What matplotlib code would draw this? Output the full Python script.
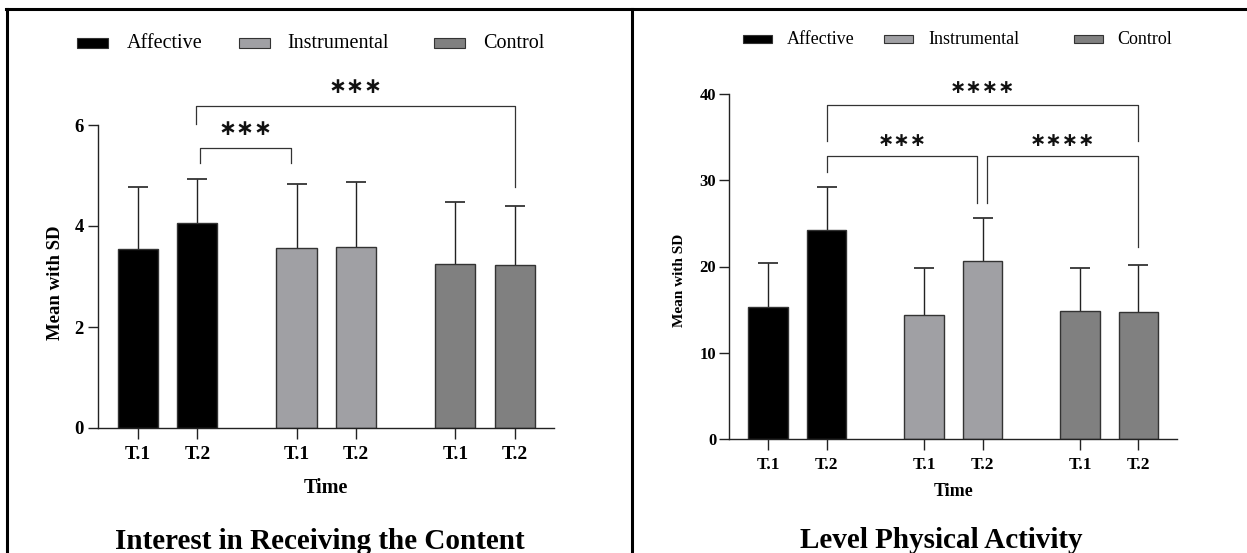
import matplotlib
matplotlib.use("Agg")
import matplotlib.pyplot as plt
import numpy as np
from matplotlib.lines import Line2D
from matplotlib.patches import Rectangle

W, H = 1247, 553

# ---------- DATA ----------
groups = ["Affective", "Instrumental", "Control"]
times = ["T.1", "T.2"]

interest_mean = {
    "Affective": [3.55, 4.06],
    "Instrumental": [3.56, 3.59],
    "Control": [3.24, 3.22],
}
interest_sd = {
    "Affective": [1.22, 0.87],
    "Instrumental": [1.28, 1.28],
    "Control": [1.23, 1.18],
}

activity_mean = {
    "Affective": [15.3, 24.2],
    "Instrumental": [14.4, 20.6],
    "Control": [14.8, 14.7],
}
activity_sd = {
    "Affective": [5.1, 5.0],
    "Instrumental": [5.4, 5.0],
    "Control": [5.0, 5.5],
}

interest_ticks = [0, 2, 4, 6]
activity_ticks = [0, 10, 20, 30, 40]

colors = {"Affective": "#000000", "Instrumental": "#A0A0A4", "Control": "#808080"}
DARK = "#222222"
SERIF = "Liberation Serif"


def fx(px):
    return px / W


def fy(py):
    return 1 - py / H


def bar_positions():
    pos = []
    for g in range(len(groups)):
        pos.append([g * 2.667, g * 2.667 + 1])
    return pos


def draw_panel(ax, means, sds, ticks, fs):
    pos = bar_positions()
    for g, name in enumerate(groups):
        ax.bar(pos[g], means[name], width=0.675, color=colors[name],
               edgecolor="#333333", linewidth=1.0, zorder=2)
        # symmetric SD bars drawn behind the bars: only the upper half shows
        ax.errorbar(pos[g], means[name], yerr=sds[name], fmt="none",
                    ecolor=DARK, elinewidth=1.0, capsize=7, capthick=1.2, zorder=1)
    ax.set_xlim(-0.67, 7.0)
    ax.set_ylim(ticks[0], ticks[-1])
    ax.set_yticks(ticks)
    ax.set_xticks([p for pp in pos for p in pp])
    ax.set_xticklabels(times * 3)
    for s in ["top", "right"]:
        ax.spines[s].set_visible(False)
    for s in ["left", "bottom"]:
        ax.spines[s].set_linewidth(1.0)
        ax.spines[s].set_color(DARK)
        ax.spines[s].set_zorder(3)
    ax.tick_params(axis="y", length=7.2, width=1.0, color=DARK, pad=fs["ypad"])
    ax.tick_params(axis="x", length=7.7, width=1.0, color=DARK, pad=5)
    for lab in ax.get_yticklabels():
        lab.set_fontfamily(SERIF)
        lab.set_fontweight("bold")
        lab.set_fontsize(fs["ytick"])
    for lab in ax.get_xticklabels():
        lab.set_fontfamily(SERIF)
        lab.set_fontweight("bold")
        lab.set_fontsize(fs["xtick"])
    ax.set_ylabel("Mean with SD", fontfamily=SERIF, fontweight="bold",
                  fontsize=fs["ylabel"], va="center")
    ax.set_xlabel("Time", fontfamily=SERIF, fontweight="bold",
                  fontsize=fs["xlabel"], va="center")


def bracket(ax, x1, x2, ytop, y1, y2, stars, ystar, size):
    ax.plot([x1, x1, x2, x2], [y1, ytop, ytop, y2], color="#333333",
            linewidth=0.9, clip_on=False, zorder=3)
    ax.text((x1 + x2) / 2, ystar, stars, ha="center", va="center",
            fontsize=size, fontweight="bold", family="DejaVu Sans", color="#111111")


def legend(fig, patch_x, text_x, yc, pw, ph, size):
    for name, px, tx in zip(groups, patch_x, text_x):
        fig.patches.append(Rectangle((fx(px), fy(yc + ph / 2)), pw / W, ph / H,
                                     transform=fig.transFigure, facecolor=colors[name],
                                     edgecolor="#333333", linewidth=0.8))
        fig.text(fx(tx), fy(yc), name, fontfamily=SERIF, fontsize=size,
                 ha="left", va="center")


fig = plt.figure(figsize=(W / 100, H / 100), dpi=100)
fig.patch.set_facecolor("white")

# ---------- LEFT: interest ----------
ax1 = fig.add_axes([fx(98), fy(428), (554.4 - 98) / W, (428 - 125) / H])
draw_panel(ax1, interest_mean, interest_sd, interest_ticks,
           {"ytick": 13.5, "xtick": 14, "ylabel": 13.5, "xlabel": 14.5, "ypad": 3})
ax1.yaxis.set_label_coords(-0.094, 0.48)
ax1.xaxis.set_label_coords(0.5, -0.198)
bracket(ax1, 1.04, 2.57, 5.54, 5.24, 5.24, "∗∗∗", 5.92, 15.5)
bracket(ax1, 0.98, 6.333, 6.37, 6.02, 4.77, "∗∗∗", 6.75, 15.5)
legend(fig, [77, 238.5, 433.7], [127, 287.5, 482.7], 43, 31, 9, 14.5)
fig.text(fx(320), fy(549), "Interest in Receiving the Content", fontfamily=SERIF,
         fontweight="bold", fontsize=21, ha="center", va="baseline")

# ---------- RIGHT: physical activity ----------
ax2 = fig.add_axes([fx(729), fy(439.3), (1177.4 - 729) / W, (439.3 - 93.7) / H])
draw_panel(ax2, activity_mean, activity_sd, activity_ticks,
           {"ytick": 12, "xtick": 12.5, "ylabel": 11, "xlabel": 13, "ypad": 2})
ax2.yaxis.set_label_coords(-0.11, 0.46)
ax2.xaxis.set_label_coords(0.5, -0.152)
bracket(ax2, 1.0, 6.333, 38.7, 34.5, 34.5, "∗∗∗∗", 40.66, 14)
bracket(ax2, 1.0, 3.58, 32.8, 30.9, 27.4, "∗∗∗", 34.6, 14)
bracket(ax2, 3.75, 6.333, 32.8, 27.4, 22.2, "∗∗∗∗", 34.6, 14)
legend(fig, [742.5, 884, 1073.8], [786.7, 928, 1117], 39, 29, 8.5, 13)
fig.text(fx(941.5), fy(548), "Level Physical Activity", fontfamily=SERIF,
         fontweight="bold", fontsize=21, ha="center", va="baseline")

# ---------- frame lines ----------
for xs, ys in [([fx(6), 1], [fy(9), fy(9)]),
               ([fx(7), fx(7)], [fy(9), 0]),
               ([fx(632), fx(632)], [fy(9), 0])]:
    fig.add_artist(Line2D(xs, ys, transform=fig.transFigure, color="black",
                          linewidth=2.2))

fig.savefig("out.png", dpi=100)
